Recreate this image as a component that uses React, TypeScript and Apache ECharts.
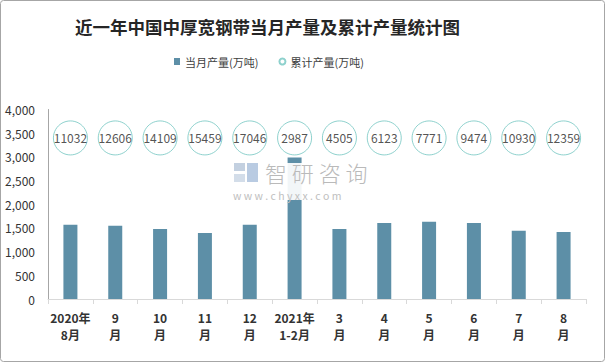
import React, { useEffect, useRef } from "react";
import * as echarts from "echarts";

const categories = ["2020年\n8月", "9\n月", "10\n月", "11\n月", "12\n月", "2021年\n1-2月", "3\n月", "4\n月", "5\n月", "6\n月", "7\n月", "8\n月"];
const monthly = [1565, 1545, 1480, 1395, 1565, 2987, 1480, 1605, 1630, 1605, 1440, 1415];
const cumulative = [11032, 12606, 14109, 15459, 17046, 2987, 4505, 6123, 7771, 9474, 10930, 12359];
const yTicks = { min: 0, max: 4000, interval: 500 };
const bubbleLevel = 3400;

export default function App() {
  const ref = useRef<HTMLDivElement>(null);
  useEffect(() => {
    if (!ref.current) return;
    const chart = echarts.init(ref.current, undefined, { renderer: "svg" });
    const font = "'Noto Sans CJK SC', 'Noto Sans', sans-serif";
    chart.setOption({
      animation: false,
      backgroundColor: "#ffffff",
      textStyle: { fontFamily: font },
      title: {
        text: "近一年中国中厚宽钢带当月产量及累计产量统计图",
        left: 70,
        top: 13,
        textStyle: { fontSize: 17.5, fontWeight: "bold", color: "#262626", fontFamily: font },
      },
      legend: {
        left: 169,
        top: 51,
        itemWidth: 6,
        itemHeight: 7,
        itemGap: 20,
        textStyle: { fontSize: 11, color: "#404040", fontFamily: font },
        data: [
          { name: "当月产量(万吨)", icon: "rect" },
          { name: "累计产量(万吨)", icon: "circle" },
        ],
      },
      grid: { left: 48, right: 20, top: 109.5, bottom: 64 },
      xAxis: {
        type: "category",
        data: categories,
        axisLine: { show: true, lineStyle: { color: "#d9d9d9", width: 1 } },
        axisTick: { show: true, length: 5, lineStyle: { color: "#d9d9d9" } },
        axisLabel: {
          interval: 0,
          fontSize: 12,
          fontWeight: "bold",
          color: "#333333",
          lineHeight: 17,
          margin: 10,
          fontFamily: font,
        },
      },
      yAxis: {
        type: "value",
        min: yTicks.min,
        max: yTicks.max,
        interval: yTicks.interval,
        axisLine: { show: true, lineStyle: { color: "#a6a6a6", width: 1 } },
        axisTick: { show: false },
        splitLine: { show: false },
        axisLabel: {
          fontSize: 12,
          color: "#333333",
          margin: 13,
          fontFamily: font,
          formatter: (v: number) => v.toLocaleString("en-US"),
        },
      },
      series: [
        {
          name: "当月产量(万吨)",
          type: "bar",
          data: monthly,
          barWidth: 14,
          itemStyle: { color: "#5d8fa7" },
        },
        {
          name: "累计产量(万吨)",
          type: "scatter",
          data: cumulative.map((c, i) => ({ value: [i, bubbleLevel], cum: c })),
          symbol: "circle",
          symbolSize: 34,
          z: 5,
          itemStyle: { color: "#ffffff", borderColor: "#72c6c0", borderWidth: 1 },
          label: {
            show: true,
            position: "inside",
            fontSize: 12,
            color: "#262626",
            fontFamily: font,
            formatter: (p: any) => String(cumulative[p.dataIndex]),
          },
        },
      ],
      graphic: [
        {
          type: "rect",
          shape: { x: 230, y: 163, width: 146, height: 37 },
          style: { fill: "rgba(255,255,255,0.92)" },
          z: 10,
        },
        {
          type: "rect",
          shape: { x: 234, y: 163, width: 11, height: 8 },
          style: { fill: "#c3d0e0" },
          z: 11,
        },
        {
          type: "rect",
          shape: { x: 234, y: 174, width: 11, height: 8 },
          style: { fill: "#d3dde9" },
          z: 11,
        },
        {
          type: "rect",
          shape: { x: 247, y: 163, width: 11, height: 19 },
          style: { fill: "#b9cbe2" },
          z: 11,
        },
        {
          type: "text",
          x: 265,
          y: 161,
          z: 11,
          style: { text: "智 研 咨 询", fontSize: 22, fill: "#bababa", fontFamily: font, fontWeight: 300 },
        },
        {
          type: "text",
          x: 233,
          y: 190,
          z: 11,
          style: { text: "w w w . c h y x x . c o m", fontSize: 10.5, fill: "#c0c0c0", fontFamily: font },
        },
        {
          type: "rect",
          shape: { x: 0.5, y: 0.5, width: 604, height: 361, r: 3 },
          style: { fill: "none", stroke: "#a6a6a6", lineWidth: 1 },
          z: 20,
        },
      ],
    });
    return () => chart.dispose();
  }, []);
  return (
    <div
      ref={ref}
      style={{ position: "fixed", left: 0, top: 0, width: 606, height: 363, background: "#fff" }}
    />
  );
}
